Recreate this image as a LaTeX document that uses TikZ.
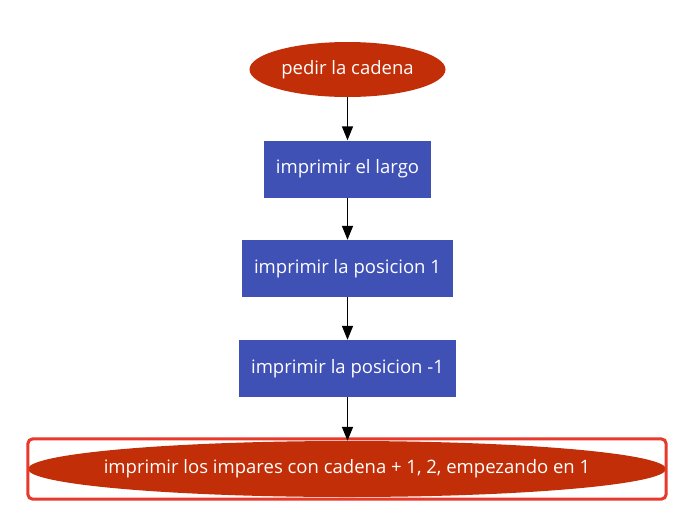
\documentclass[tikz,border=0pt]{standalone}
\usepackage{fontspec}
\setmainfont{Open Sans}
\usetikzlibrary{shapes.geometric,arrows.meta,fit}

\definecolor{startred}{HTML}{C22E07}
\definecolor{stepblue}{HTML}{3F51B5}
\definecolor{markred}{HTML}{E8392A}

\begin{document}
\begin{tikzpicture}[x=1pt, y=1pt,
  font=\fontsize{18.5}{21}\selectfont,
  terminal/.style={ellipse, fill=startred, text=white, inner sep=0pt},
  stepbox/.style={rectangle, fill=stepblue, text=white, minimum height=57pt, inner xsep=12pt},
  flow/.style={-{Triangle[length=14pt, width=11pt]}, line width=1.5pt, black}]

%─────────────
% Page frame
%─────────────
\useasboundingbox (0,0) rectangle (691,-531);

%─────────────
% Steps
%─────────────
\node[terminal, minimum width=196pt, minimum height=55pt] (pedir) at (347.5,-69.5) {pedir la cadena};
\node[stepbox] (largo) at (347.5,-169) {imprimir el largo};
\node[stepbox] (pos1) at (347.5,-268.5) {imprimir la posicion 1};
\node[stepbox] (posm1) at (347.5,-368.5) {imprimir la posicion -1};
\node[terminal, inner xsep=-20pt, minimum width=638pt, minimum height=56pt] (impares) at (347,-469) {imprimir los impares con cadena + 1, 2, empezando en 1};

% highlight round the last step
\node[draw=markred, line width=3pt, rounded corners=5pt, inner xsep=0pt, inner ysep=2pt, fit=(impares)] (marca) {};

%─────────────
% Connectors
%─────────────
\draw[flow] (pedir) -- (largo);
\draw[flow] (largo) -- (pos1);
\draw[flow] (pos1) -- (posm1);
\draw[flow] (posm1) -- (posm1 |- impares.north);

\end{tikzpicture}
\end{document}
